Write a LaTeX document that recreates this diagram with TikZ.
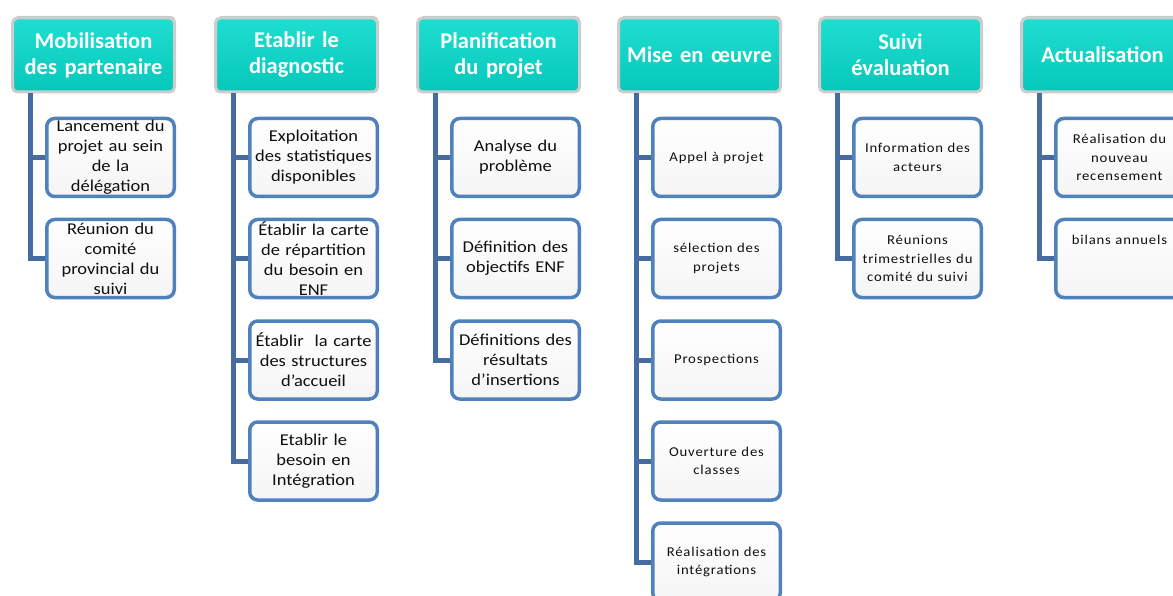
\documentclass[tikz,border=0pt]{standalone}
\usepackage{fontspec}
\setmainfont{Carlito}
\newfontfamily\spaced[LetterSpace=6,FakeStretch=1.09]{Carlito}
\newfontfamily\stretched[FakeStretch=1.12]{Carlito}
\usetikzlibrary{shadows}
\definecolor{tealtop}{RGB}{30,222,208}
\definecolor{tealbot}{RGB}{6,200,186}
\definecolor{hdrgray}{RGB}{205,205,205}
\definecolor{boxblue}{RGB}{79,129,189}
\definecolor{linkblue}{RGB}{70,108,162}
\definecolor{txt}{RGB}{15,15,15}
\tikzset{
  hdr/.style={rectangle, rounded corners=5pt, minimum width=162pt, minimum height=74pt,
    text width=158pt, align=center, inner sep=0pt, text=white,
    font=\bfseries\fontsize{22.5}{26}\selectfont,
    top color=tealtop, bottom color=tealbot, draw=hdrgray, line width=3pt,
    drop shadow={opacity=0.45, shadow xshift=1pt, shadow yshift=2pt}},
  kid/.style={rectangle, rounded corners=8pt, minimum width=127.5pt, minimum height=78pt,
    text width=124pt, align=center, inner sep=0pt, text=txt,
    draw=boxblue, line width=3.5pt, top color=white, bottom color=black!4},
  kidA/.style={kid, font=\stretched\fontsize{16.5}{20}\selectfont},
  kidB/.style={kid, font=\spaced\fontsize{13.5}{18.5}\selectfont},
  conn/.style={draw=linkblue, line width=5pt}
}
\begin{document}
\begin{tikzpicture}[x=1pt,y=-1pt]
\clip (0,0) rectangle (1173,596);
\fill[white] (0,0) rectangle (1173,596);

% column 1
\node[hdr] (h1) at (93.5,55) {Mobilisation\\des partenaire};
\node[kidA] (c11) at (110.5,157.5) {Lancement du\\projet au sein\\de la\\délégation};
\node[kidA] (c12) at (110.5,258.5) {Réunion du\\comité\\provincial du\\suivi};
\coordinate (v1) at ([xshift=19pt]h1.south west);
\draw[conn] (v1) |- (c11.west);
\draw[conn] (v1) |- (c12.west);

% column 2
\node[hdr] (h2) at (296.5,55) {Etablir le\\diagnostic};
\node[kidA] (c21) at (313.5,157.5) {Exploitation\\des statistiques\\disponibles};
\node[kidA] (c22) at (313.5,258.5) {Établir la carte\\de répartition\\du besoin en\\ENF};
\node[kidA] (c23) at (313.5,360) {Établir\ \ la carte\\des structures\\d’accueil};
\node[kidA] (c24) at (313.5,461) {Etablir le\\besoin en\\Intégration};
\coordinate (v2) at ([xshift=19pt]h2.south west);
\draw[conn] (v2) |- (c21.west);
\draw[conn] (v2) |- (c22.west);
\draw[conn] (v2) |- (c23.west);
\draw[conn] (v2) |- (c24.west);

% column 3
\node[hdr] (h3) at (498.5,55) {Planification\\du projet};
\node[kidA] (c31) at (515.5,157.5) {Analyse du\\problème};
\node[kidA] (c32) at (515.5,258.5) {Définition des\\objectifs ENF};
\node[kidA] (c33) at (515.5,360) {Définitions des\\résultats\\d’insertions};
\coordinate (v3) at ([xshift=19pt]h3.south west);
\draw[conn] (v3) |- (c31.west);
\draw[conn] (v3) |- (c32.west);
\draw[conn] (v3) |- (c33.west);

% column 4
\node[hdr] (h4) at (699.5,55) {Mise en œuvre};
\node[kidB] (c41) at (716.5,157.5) {Appel à projet};
\node[kidB] (c42) at (716.5,258.5) {sélection des\\projets};
\node[kidB] (c43) at (716.5,360) {Prospections};
\node[kidB] (c44) at (716.5,461) {Ouverture des\\classes};
\node[kidB] (c45) at (716.5,562) {Réalisation des\\intégrations};
\coordinate (v4) at ([xshift=19pt]h4.south west);
\draw[conn] (v4) |- (c41.west);
\draw[conn] (v4) |- (c42.west);
\draw[conn] (v4) |- (c43.west);
\draw[conn] (v4) |- (c44.west);
\draw[conn] (v4) |- (c45.west);

% column 5
\node[hdr] (h5) at (900.5,55) {Suivi\\évaluation};
\node[kidB] (c51) at (917.5,157.5) {Information des\\acteurs};
\node[kidB] (c52) at (917.5,258.5) {Réunions\\trimestrielles du\\comité du suivi};
\coordinate (v5) at ([xshift=19pt]h5.south west);
\draw[conn] (v5) |- (c51.west);
\draw[conn] (v5) |- (c52.west);

% column 6
\node[hdr] (h6) at (1102.5,55) {Actualisation};
\node[kidB] (c61) at (1119.5,157.5) {Réalisation du\\nouveau\\recensement};
\node[kidB] (c62) at (1119.5,258.5) {bilans annuels\\[18pt]\mbox{}};
\coordinate (v6) at ([xshift=19pt]h6.south west);
\draw[conn] (v6) |- (c61.west);
\draw[conn] (v6) |- (c62.west);
\end{tikzpicture}
\end{document}
